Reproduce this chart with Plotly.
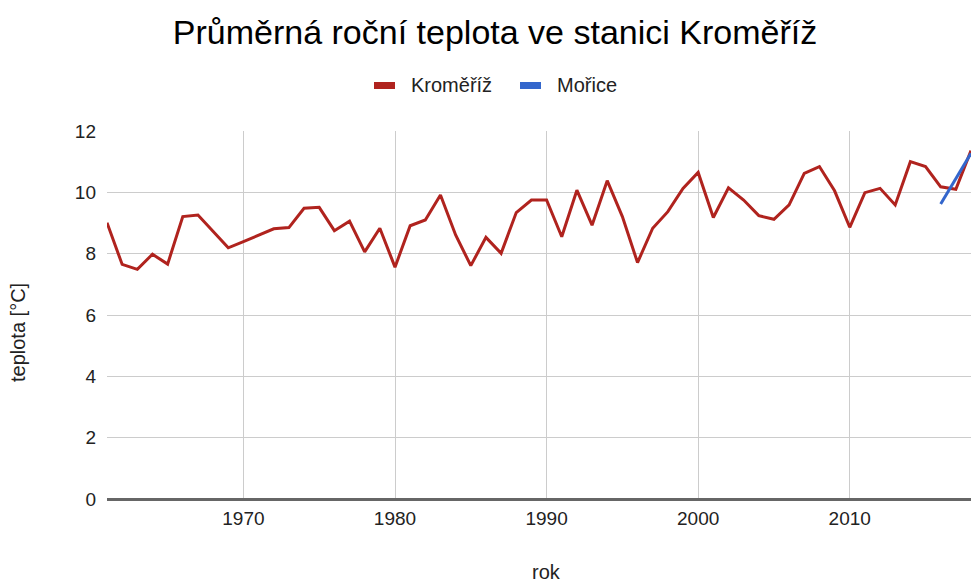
import plotly.graph_objects as go

years = list(range(1961, 2019))
kromeriz = [9.01, 7.65, 7.49, 7.98, 7.66, 9.21, 9.26, 8.73, 8.19, 8.39,
            8.60, 8.81, 8.85, 9.48, 9.51, 8.75, 9.06, 8.06, 8.83, 7.56,
            8.91, 9.10, 9.91, 8.61, 7.61, 8.53, 8.01, 9.34, 9.75, 9.75,
            8.55, 10.07, 8.93, 10.38, 9.21, 7.71, 8.83, 9.37, 10.13, 10.65,
            9.18, 10.15, 9.75, 9.24, 9.12, 9.59, 10.62, 10.84, 10.05, 8.86,
            9.99, 10.13, 9.59, 11.00, 10.84, 10.18, 10.10, 11.36]
morice_years = [2016, 2017, 2018]
morice = [9.62, 10.44, 11.27]

series_names = ["Kroměříž", "Mořice"]
series_colors = ["#b0231e", "#3366cc"]

x_ticks = [1970, 1980, 1990, 2000, 2010]
y_ticks = [0, 2, 4, 6, 8, 10, 12]

W, H = 971, 586
ML, MR, MT, MB = 107, 0, 131, 87
PW, PH = W - ML - MR, H - MT - MB

font_family = "Liberation Sans, Arial, sans-serif"
txt = "#222222"


def px_x(px):
    return (px - ML) / PW


def px_y(py):
    return (H - MB - py) / PH


fig = go.Figure()
fig.add_trace(go.Scatter(x=years, y=kromeriz, mode="lines", name=series_names[0],
                         line=dict(color=series_colors[0], width=3), showlegend=False))
fig.add_trace(go.Scatter(x=morice_years, y=morice, mode="lines", name=series_names[1],
                         line=dict(color=series_colors[1], width=3), showlegend=False))

# manual legend (rectangle swatches like the reference)
legend_swatch_x = [374, 520]
legend_text_x = [409, 555]
shapes = []
annotations = []
for name, col, sx, tx in zip(series_names, series_colors, legend_swatch_x, legend_text_x):
    shapes.append(dict(type="rect", xref="paper", yref="paper",
                       x0=px_x(sx), x1=px_x(sx + 21), y0=px_y(89), y1=px_y(82),
                       fillcolor=col, line=dict(width=0)))
    annotations.append(dict(text=name, xref="paper", yref="paper",
                            x=px_x(tx), y=px_y(85.5), xanchor="left", yanchor="middle",
                            showarrow=False, font=dict(size=20, color=txt)))

annotations.append(dict(text="teplota [°C]", xref="paper", yref="paper",
                        x=px_x(18), y=px_y(333), xanchor="center", yanchor="middle",
                        textangle=-90, showarrow=False, font=dict(size=20, color=txt)))
annotations.append(dict(text="rok", xref="paper", yref="paper",
                        x=px_x(546), y=px_y(572), xanchor="center", yanchor="middle",
                        showarrow=False, font=dict(size=20, color=txt)))

fig.update_layout(
    width=W, height=H,
    margin=dict(l=ML, r=MR, t=MT, b=MB),
    paper_bgcolor="white", plot_bgcolor="white",
    font=dict(family=font_family, color=txt, size=19),
    title=dict(text="Průměrná roční teplota ve stanici Kroměříž",
               x=495 / W, xanchor="center", xref="container",
               y=1 - 32 / H, yref="container", yanchor="middle",
               font=dict(size=34, color="#000", family=font_family)),
    showlegend=False,
    shapes=shapes,
    annotations=annotations,
)
fig.update_xaxes(range=[1961, 2018], tickvals=x_ticks, ticktext=[str(v) for v in x_ticks],
                 showgrid=True, gridcolor="#cccccc", gridwidth=1,
                 showline=False, zeroline=False, ticks="", ticklabelstandoff=6,
                 tickfont=dict(size=19, color=txt))
fig.update_yaxes(range=[0, 12], tickvals=y_ticks,
                 showgrid=True, gridcolor="#cccccc", gridwidth=1,
                 zeroline=True, zerolinecolor="#666666", zerolinewidth=3,
                 ticks="", ticklabelstandoff=10,
                 tickfont=dict(size=19, color=txt))

fig.write_html("out.html", config={"displayModeBar": False},
               post_script="document.body.style.margin='0';")
